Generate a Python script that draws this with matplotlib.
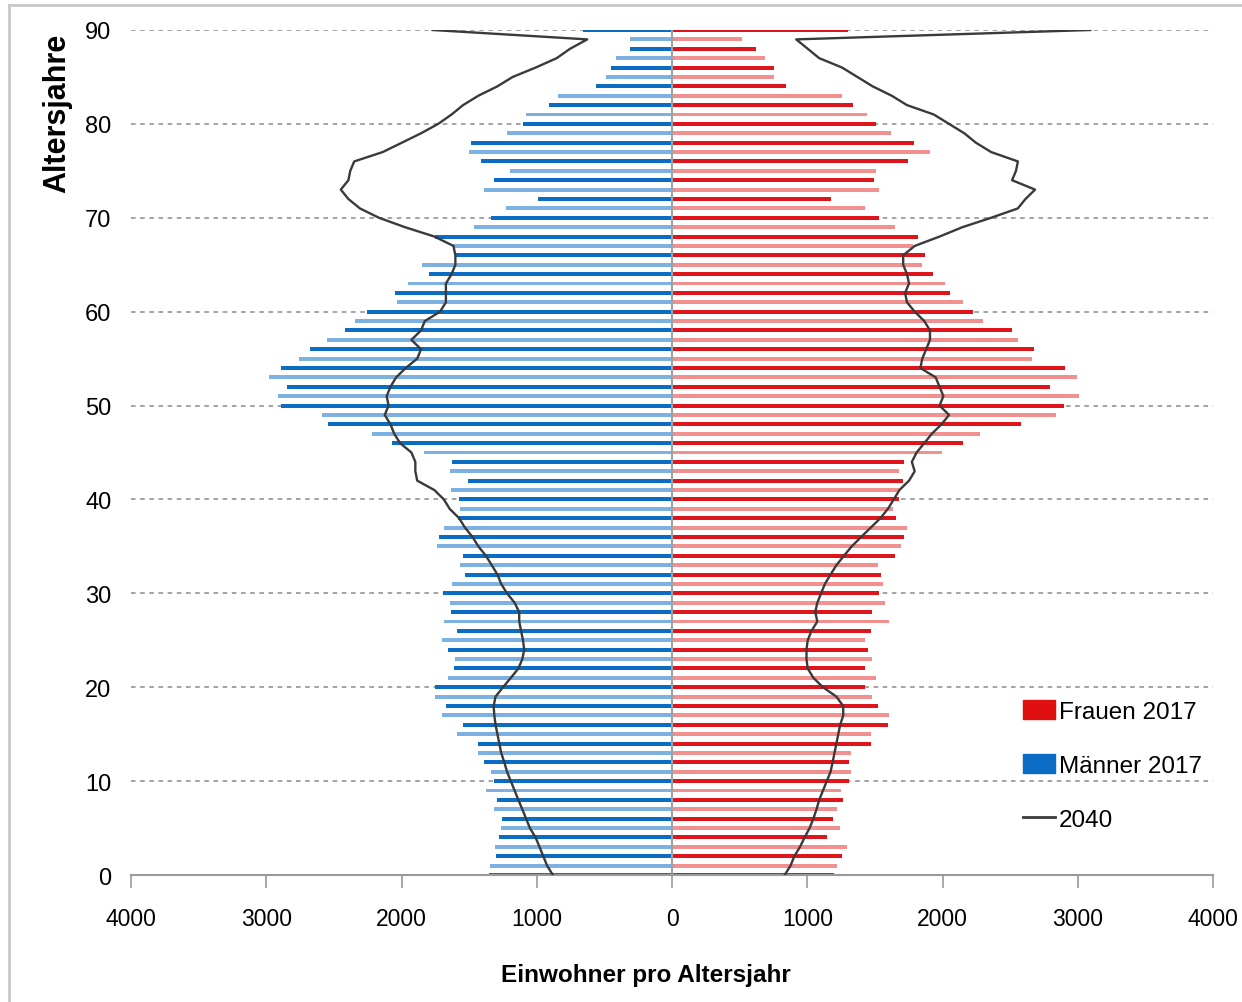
import matplotlib.pyplot as plt
import numpy as np
from matplotlib.patches import Patch
from matplotlib.lines import Line2D

ages = np.arange(0, 91)

maenner_2017 = [1356, 1347, 1300, 1311, 1277, 1263, 1254, 1319, 1297, 1376,
                1319, 1342, 1390, 1438, 1438, 1588, 1545, 1701, 1670, 1754,
                1754, 1658, 1610, 1607, 1658, 1703, 1588, 1689, 1638, 1641,
                1695, 1624, 1531, 1568, 1545, 1737, 1723, 1687, 1585, 1568,
                1574, 1636, 1511, 1644, 1624, 1833, 2068, 2218, 2543, 2585,
                2893, 2913, 2845, 2978, 2893, 2760, 2675, 2554, 2421, 2342,
                2252, 2034, 2048, 1955, 1794, 1848, 1602, 1620, 1749, 1466,
                1339, 1229, 994, 1387, 1319, 1195, 1410, 1500, 1489, 1218,
                1105, 1082, 907, 845, 565, 492, 455, 415, 311, 311,
                658]

frauen_2017 = [1198, 1223, 1257, 1291, 1144, 1243, 1192, 1223, 1266, 1251,
               1311, 1322, 1311, 1322, 1469, 1469, 1596, 1605, 1526, 1477,
               1427, 1511, 1427, 1477, 1446, 1427, 1469, 1605, 1477, 1571,
               1531, 1559, 1545, 1526, 1647, 1695, 1715, 1737, 1658, 1630,
               1675, 1681, 1709, 1681, 1715, 1997, 2153, 2274, 2579, 2839,
               2896, 3009, 2797, 2995, 2904, 2661, 2678, 2557, 2514, 2302,
               2223, 2153, 2054, 2020, 1927, 1850, 1870, 1780, 1817, 1647,
               1528, 1427, 1178, 1528, 1494, 1511, 1743, 1907, 1791, 1616,
               1511, 1438, 1336, 1257, 842, 751, 751, 686, 619, 517,
               1300]

maenner_2040 = [881, 924, 952, 980, 1009, 1051, 1079, 1107, 1136, 1164,
                1192, 1220, 1240, 1263, 1277, 1291, 1305, 1314, 1319, 1305,
                1250, 1192, 1136, 1107, 1093, 1102, 1116, 1130, 1130, 1164,
                1220, 1263, 1291, 1333, 1376, 1432, 1475, 1531, 1574, 1644,
                1687, 1757, 1884, 1898, 1898, 1927, 2011, 2054, 2082, 2124,
                2096, 2110, 2082, 2040, 1969, 1884, 1856, 1927, 1856, 1828,
                1715, 1672, 1672, 1672, 1630, 1602, 1602, 1616, 1757, 1975,
                2167, 2308, 2393, 2449, 2393, 2379, 2350, 2139, 1997, 1856,
                1729, 1630, 1545, 1432, 1291, 1178, 1008, 853, 754, 627,
                1771]

frauen_2040 = [833, 876, 904, 946, 980, 1017, 1045, 1068, 1088, 1116,
               1144, 1172, 1187, 1201, 1215, 1229, 1243, 1266, 1265, 1215,
               1116, 1045, 1003, 994, 994, 1003, 1031, 1074, 1059, 1074,
               1102, 1130, 1172, 1215, 1271, 1328, 1398, 1469, 1540, 1596,
               1639, 1681, 1752, 1794, 1773, 1808, 1865, 1921, 1992, 2048,
               1978, 2006, 1978, 1949, 1836, 1850, 1879, 1907, 1907, 1865,
               1794, 1737, 1723, 1752, 1737, 1709, 1709, 1794, 1978, 2147,
               2359, 2557, 2613, 2684, 2514, 2543, 2557, 2359, 2246, 2161,
               2048, 1935, 1737, 1624, 1483, 1370, 1257, 1088, 1003, 918,
               3093]

x_ticks = [-4000, -3000, -2000, -1000, 0, 1000, 2000, 3000, 4000]
x_ticklabels = ["4000", "3000", "2000", "1000", "0", "1000", "2000", "3000", "4000"]

font = ["Liberation Sans", "DejaVu Sans"]

fig = plt.figure(figsize=(12.42, 10.03), dpi=100)
ax = fig.add_axes([0.1055, 0.1266, 0.8712, 0.8425])

# aliasing in the original makes every other bar look lighter
even = ages % 2 == 0
blue = np.where(even, "#0A6CC2", "#7DB1E1")
red = np.where(even, "#E0141B", "#F29090")

ax.barh(ages, -np.array(maenner_2017), height=0.42, color=blue, zorder=2)
ax.barh(ages, frauen_2017, height=0.42, color=red, zorder=2)
ax.plot(-np.array(maenner_2040), ages, color="#3a3a3a", lw=1.7, zorder=3)
ax.plot(frauen_2040, ages, color="#3a3a3a", lw=1.7, zorder=3)
ax.axvline(0, color="#a0a0a0", lw=1.5, zorder=2.5)

ax.set_xlim(-4000, 4000)
ax.set_ylim(0, 90)
ax.set_xticks(x_ticks)
ax.set_xticklabels(x_ticklabels, family=font, fontsize=16.5)
ax.set_yticks(range(0, 91, 10))
ax.set_yticklabels([str(v) for v in range(0, 91, 10)], family=font, fontsize=17)
ax.tick_params(axis="x", length=9, width=1.2, color="#9a9a9a", direction="out", pad=14)
ax.tick_params(axis="y", length=0, pad=14)
ax.grid(axis="y", linestyle=(0, (3, 3)), color="#8a8a8a", lw=1.1, zorder=1)

for s in ["top", "right", "left"]:
    ax.spines[s].set_visible(False)
ax.spines["bottom"].set_color("#9a9a9a")
ax.spines["bottom"].set_linewidth(1.5)

ax.set_xlabel("Einwohner pro Altersjahr", family=font, fontsize=17.5,
              fontweight="bold", labelpad=24, x=0.476)
fig.text(0.046, 0.966, "Altersjahre", rotation=90, fontsize=22, family=font,
         fontweight="bold", ha="center", va="top")

handles = [Patch(color="#E01010"), Patch(color="#0A6CC4"),
           Line2D([], [], color="#3a3a3a", lw=2)]
leg = ax.legend(handles, ["Frauen 2017", "Männer 2017", "2040"],
                loc="upper left", bbox_to_anchor=(0.824, 0.207), frameon=False,
                prop={"family": font, "size": 17.5}, handlelength=1.35,
                handleheight=0.85, handletextpad=0.15, labelspacing=1.27,
                borderpad=0, borderaxespad=0)

# chart area border like the original
fig.add_artist(Line2D([0.007, 0.007], [0, 0.994], color="#c8c8c8", lw=2))
fig.add_artist(Line2D([0.007, 1.0], [0.994, 0.994], color="#c8c8c8", lw=2))

fig.savefig("out.png", dpi=100)
